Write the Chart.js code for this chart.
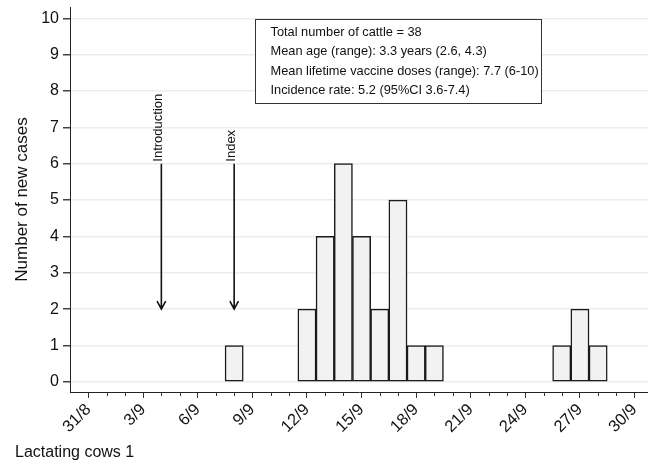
<!DOCTYPE html>
<html>
<head>
<meta charset="utf-8">
<script src="https://cdn.jsdelivr.net/npm/chart.js@4/dist/chart.umd.min.js"></script>
<style>
  body { margin: 0; background: #fff; }
  #wrap { width: 648px; height: 465px; }
</style>
</head>
<body>
<div id="wrap"><canvas id="epiCurve"></canvas></div>
<script>
// onset dates and number of new cases
const caseDates = ["8/9", "12/9", "13/9", "14/9", "15/9", "16/9", "17/9", "18/9", "19/9", "26/9", "27/9", "28/9"];
const caseCounts = [1, 2, 4, 6, 4, 2, 5, 1, 1, 1, 2, 1];

// x tick labels (every 3 days)
const tickLabels = ["31/8", "3/9", "6/9", "9/9", "12/9", "15/9", "18/9", "21/9", "24/9", "27/9", "30/9"];
const yTicks = [0, 1, 2, 3, 4, 5, 6, 7, 8, 9, 10];

// arrows: label, date, from / to case count
const arrowLabels = ["Introduction", "Index"];
const arrowDates = ["4/9", "8/9"];
const arrowTop = 6;
const arrowBottom = 2;

const infoLines = [
  "Total number of cattle = 38",
  "Mean age (range): 3.3 years (2.6, 4.3)",
  "Mean lifetime vaccine doses (range): 7.7 (6-10)",
  "Incidence rate: 5.2 (95%CI 3.6-7.4)"
];

const footLabel = "Lactating cows 1";

// days counted from 31/8
function dayNum(s) {
  const [d, m] = s.split("/").map(Number);
  return m === 8 ? d - 31 : d;
}

const FONT = "'Liberation Sans', Arial, sans-serif";

const extras = {
  id: "extras",
  afterDraw(chart) {
    const ctx = chart.ctx;
    const x = chart.scales.x;
    const y = chart.scales.y;
    const bottom = chart.chartArea.bottom;
    ctx.save();

    // minor x ticks (every day)
    ctx.strokeStyle = "#333";
    ctx.lineWidth = 1;
    for (let d = 0; d <= 30; d++) {
      if (d % 3 === 0) continue;
      const px = Math.round(x.getPixelForValue(d)) + 0.5;
      ctx.beginPath();
      ctx.moveTo(px, bottom);
      ctx.lineTo(px, bottom + 4);
      ctx.stroke();
    }

    // arrows
    ctx.strokeStyle = "#111";
    ctx.fillStyle = "#111";
    ctx.lineWidth = 1.6;
    arrowDates.forEach((ds, i) => {
      const px = x.getPixelForValue(dayNum(ds));
      const y1 = y.getPixelForValue(arrowTop);
      const y2 = y.getPixelForValue(arrowBottom);
      ctx.beginPath();
      ctx.moveTo(px, y1);
      ctx.lineTo(px, y2);
      ctx.moveTo(px - 4.3, y2 - 8);
      ctx.lineTo(px, y2);
      ctx.lineTo(px + 4.3, y2 - 8);
      ctx.stroke();

      ctx.save();
      ctx.translate(px + 1, y1 - 2);
      ctx.rotate(-Math.PI / 2);
      ctx.font = "13px " + FONT;
      ctx.textAlign = "left";
      ctx.textBaseline = "alphabetic";
      ctx.fillText(arrowLabels[i], 0, 0);
      ctx.restore();
    });

    // info box
    const bx1 = x.getPixelForValue(9.12);
    const bx2 = x.getPixelForValue(24.86);
    const by1 = y.getPixelForValue(9.98);
    const by2 = y.getPixelForValue(7.67);
    ctx.fillStyle = "#fff";
    ctx.fillRect(bx1, by1, bx2 - bx1, by2 - by1);
    ctx.strokeStyle = "#333";
    ctx.lineWidth = 1;
    ctx.strokeRect(Math.round(bx1) + 0.5, Math.round(by1) + 0.5, Math.round(bx2 - bx1), Math.round(by2 - by1));
    ctx.fillStyle = "#111";
    ctx.font = "12.8px " + FONT;
    ctx.textAlign = "left";
    ctx.textBaseline = "middle";
    infoLines.forEach((t, i) => {
      ctx.fillText(t, bx1 + 16, by1 + 13 + i * 19.6);
    });

    // footer label
    ctx.font = "16px " + FONT;
    ctx.textBaseline = "middle";
    ctx.fillText(footLabel, 15, 453);

    ctx.restore();
  }
};

const ctx = document.getElementById("epiCurve").getContext("2d");
new Chart(ctx, {
  type: "bar",
  data: {
    datasets: [{
      data: caseDates.map((d, i) => ({ x: dayNum(d), y: caseCounts[i] })),
      backgroundColor: "#f2f2f2",
      borderColor: "#1a1a1a",
      borderWidth: 1.5,
      borderSkipped: false,
      barPercentage: 1,
      categoryPercentage: 1
    }]
  },
  options: {
    responsive: true,
    maintainAspectRatio: false,
    animation: false,
    layout: { padding: { top: 7, right: 0, left: 0, bottom: 0 } },
    plugins: {
      legend: { display: false },
      tooltip: { enabled: false }
    },
    scales: {
      x: {
        type: "linear",
        offset: false,
        min: -1.02,
        max: 30.74,
        afterBuildTicks: s => { s.ticks = tickLabels.map((_, i) => ({ value: i * 3 })); },
        afterFit: s => { s.height = 73; s.paddingLeft = 0; s.paddingRight = 0; },
        grid: { offset: false, drawOnChartArea: false, tickLength: 6, tickColor: "#333" },
        border: { display: true, color: "#222", width: 1 },
        ticks: {
          autoSkip: false,
          minRotation: 45,
          maxRotation: 45,
          padding: 2,
          color: "#111",
          font: { family: FONT, size: 16.5 },
          callback: v => tickLabels[Math.round(v / 3)]
        }
      },
      y: {
        min: -0.28,
        max: 10.31,
        afterBuildTicks: s => { s.ticks = yTicks.map(v => ({ value: v })); },
        afterFit: s => { s.width = 70; s.paddingTop = 0; s.paddingBottom = 0; },
        grid: { color: "#e8eef2", lineWidth: 1.5, tickLength: 7, tickColor: "#444" },
        border: { display: true, color: "#222", width: 1 },
        ticks: {
          padding: 4,
          color: "#111",
          font: { family: FONT, size: 16 }
        },
        title: {
          display: true,
          text: "Number of new cases",
          color: "#111",
          font: { family: FONT, size: 17 },
          padding: { top: 12, bottom: 0 }
        }
      }
    }
  },
  plugins: [extras]
});
</script>
</body>
</html>
